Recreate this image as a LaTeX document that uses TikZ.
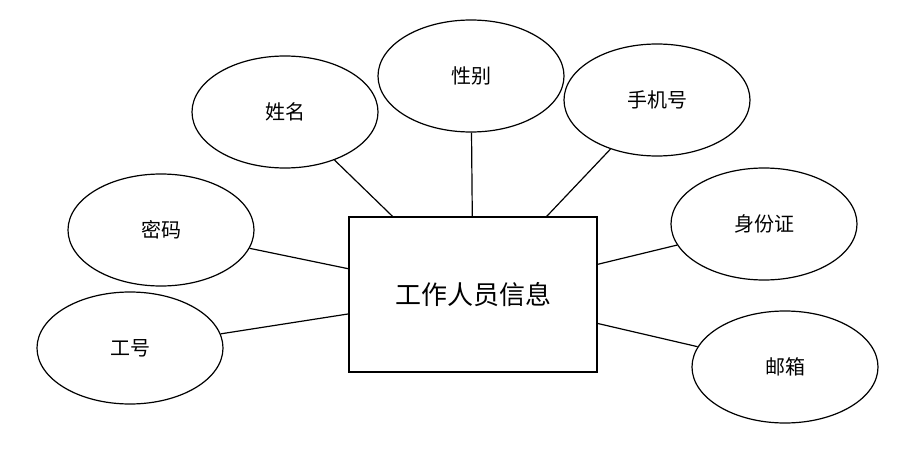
\documentclass[tikz,border=0pt]{standalone}
\usepackage{fontspec}
\setmainfont{Noto Sans CJK SC}
\usetikzlibrary{shapes.geometric}
\tikzset{
  attr/.style={ellipse, draw, line width=1.2pt, minimum width=186pt, minimum height=112pt, inner sep=0pt, font=\fontsize{20}{20}\selectfont},
  entity/.style={rectangle, draw, line width=1.2pt, minimum width=248pt, minimum height=155pt, inner sep=0pt, font=\fontsize{26}{26}\selectfont},
  link/.style={line width=1.2pt}
}
\begin{document}
\begin{tikzpicture}[x=1pt,y=-1pt]
\useasboundingbox[fill=white] (0,0) rectangle (905,452);
\node[entity] (ent) at (473,294.5) {工作人员信息};
\node[attr] (xm) at (285,112) {姓名};
\node[attr] (xb) at (471,76) {性别};
\node[attr] (sj) at (657,100) {手机号};
\node[attr] (mm) at (161,230) {密码};
\node[attr] (sf) at (764,224) {身份证};
\node[attr] (gh) at (130,348) {工号};
\node[attr] (yx) at (785,367) {邮箱};
\foreach \n in {xm,xb,sj,mm,sf,gh,yx}{
  \draw[link] (\n) -- (ent);
}
\end{tikzpicture}
\end{document}
